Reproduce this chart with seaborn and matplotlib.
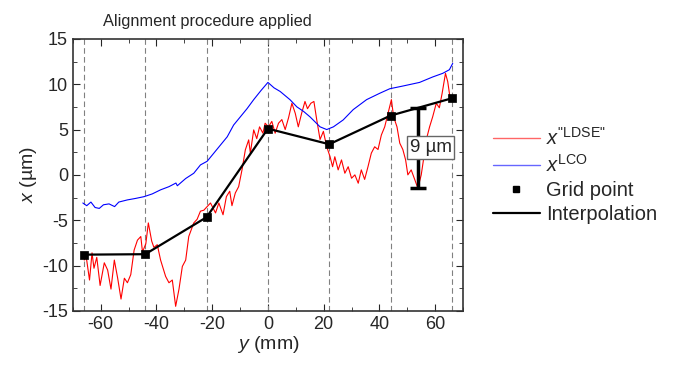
import numpy as np
import matplotlib
matplotlib.use('Agg')
import matplotlib.pyplot as plt
import seaborn as sns
from matplotlib.lines import Line2D

# red trace, x"LDSE": position y (mm) and value x (um)
ldse_y = [-65.9, -65.2, -64.0, -63.1, -62.4, -61.4, -60.2, -58.7, -57.5, -56.3,
          -55.1, -53.9, -52.7, -51.5, -50.4, -49.2, -48.0, -46.8, -45.6, -45.0,
          -43.8, -42.9, -41.7, -40.9, -39.7, -38.5, -36.7, -35.5, -34.3, -33.1,
          -31.9, -30.7, -29.5, -28.4, -26.6, -25.4, -24.2, -23.0, -20.6, -18.8,
          -17.6, -16.1, -14.9, -13.7, -12.9, -11.7, -10.5, -9.3, -8.1, -6.9,
          -6.3, -5.1, -4.0, -3.0, -1.8, -1.0, 0.2, 1.4, 2.6, 3.8,
          5.0, 6.2, 7.4, 8.6, 9.8, 10.9, 12.1, 13.3, 14.2, 15.4,
          16.5, 17.5, 18.7, 19.9, 21.1, 22.3, 23.2, 24.0, 25.2, 26.4,
          27.6, 28.8, 30.0, 31.2, 32.4, 33.5, 34.7, 35.9, 37.1, 38.3,
          39.5, 40.7, 41.9, 43.1, 44.3, 45.1, 46.3, 47.3, 48.4, 49.4,
          50.2, 51.4, 52.5, 53.8, 55.0, 55.8, 56.8, 58.0, 59.1, 60.4,
          61.5, 62.5, 63.7, 64.5, 65.3]
ldse_x = [-9.4, -9.0, -11.6, -8.6, -10.3, -9.1, -12.2, -9.7, -10.5, -12.6,
          -9.4, -11.4, -13.7, -11.4, -11.9, -11.0, -8.3, -7.2, -6.8, -8.5,
          -7.6, -5.3, -7.3, -8.0, -7.7, -9.4, -11.2, -11.9, -11.6, -14.5,
          -12.6, -10.1, -9.4, -6.8, -5.3, -4.9, -4.0, -3.9, -3.1, -4.2,
          -3.1, -4.4, -2.4, -1.8, -3.4, -2.0, -1.3, 0.55, 2.76, 3.86,
          2.4, 4.96, 4.0, 5.3, 4.6, 5.7, 5.3, 5.9, 4.6, 5.7,
          6.1, 5.0, 6.3, 7.9, 6.8, 5.3, 6.8, 8.1, 7.3, 7.9,
          8.1, 6.1, 3.9, 4.8, 3.1, 2.0, 0.9, 2.0, 0.55, 1.65,
          0.18, 0.9, -0.37, 0.0, -0.92, 0.55, -0.5, 0.9, 2.4, 3.1,
          2.8, 4.4, 5.3, 6.8, 8.3, 6.4, 5.3, 3.5, 2.8, 1.65,
          0.0, 0.55, -0.37, -1.47, 0.0, 1.65, 3.86, 5.3, 6.4, 7.9,
          7.4, 9.0, 11.2, 10.3, 8.6]

# blue trace, x LCO
lco_y = [-66.4, -65.0, -63.5, -62.0, -60.5, -59.0, -57.0, -55.0, -53.5, -50.4,
         -47.5, -44.4, -41.5, -38.5, -35.5, -33.0, -32.5, -29.5, -26.6, -24.2,
         -21.8, -19.4, -17.0, -14.6, -12.3, -9.9, -7.5, -5.1, -2.5, 0.0,
         2.2, 4.4, 7.9, 10.4, 12.8, 15.1, 18.7, 21.1, 23.5, 27.0,
         30.6, 35.4, 40.1, 43.7, 48.4, 54.4, 59.1, 62.7, 65.1, 66.3]
lco_x = [-3.1, -3.4, -3.0, -3.6, -3.7, -3.3, -3.2, -3.5, -3.0, -2.76,
         -2.6, -2.4, -2.1, -1.65, -1.3, -0.9, -1.2, -0.4, 0.18, 1.1,
         1.5, 2.4, 3.3, 4.2, 5.5, 6.4, 7.3, 8.3, 9.3, 10.2,
         9.6, 9.2, 8.3, 7.5, 7.0, 6.4, 5.3, 5.0, 5.3, 6.06,
         7.2, 8.3, 9.0, 9.5, 9.8, 10.2, 10.8, 11.2, 11.6, 12.3]

# grid points and their interpolation
grid_y = [-66, -44, -22, 0, 22, 44, 66]
grid_x = [-8.8, -8.75, -4.67, 5.1, 3.38, 6.54, 8.45]

# 9 um gap marker
gap_pos = 53.8
gap_top = 7.42
gap_bottom = -1.47

sns.set_style('ticks')
plt.rcParams['font.family'] = ['Liberation Sans', 'DejaVu Sans']
plt.rcParams['mathtext.fontset'] = 'custom'
plt.rcParams['mathtext.rm'] = 'Liberation Sans'
plt.rcParams['mathtext.it'] = 'Liberation Sans:italic'
plt.rcParams['axes.unicode_minus'] = False

fig = plt.figure(figsize=(6.74, 3.67), dpi=100)
ax = fig.add_axes([0.108, 0.153, 0.579, 0.741])

for g in grid_y:
    ax.axvline(g, color='gray', ls=(0, (5, 3)), lw=0.8, zorder=1)

sns.lineplot(x=ldse_y, y=ldse_x, color='red', lw=0.8, sort=False, ax=ax, zorder=2)
sns.lineplot(x=lco_y, y=lco_x, color='blue', lw=0.8, sort=False, ax=ax, zorder=2)
sns.lineplot(x=grid_y, y=grid_x, color='black', lw=1.6, sort=False, ax=ax, zorder=3)
sns.scatterplot(x=grid_y, y=grid_x, color='black', marker='s', s=40,
                edgecolor='black', ax=ax, zorder=4)

ax.errorbar([gap_pos], [(gap_top + gap_bottom) / 2], yerr=[(gap_top - gap_bottom) / 2],
            color='black', lw=2.5, capsize=6, capthick=2.5, fmt='none', zorder=5)
ax.text(50.8, 3.0, '9 µm', fontsize=13.5, va='center', ha='left', zorder=6,
        bbox=dict(boxstyle='square,pad=0.15', fc='white', ec='#666666', lw=1))

ax.set_xlim(-70, 70)
ax.set_ylim(-15, 15)
ax.set_xticks(np.arange(-60, 61, 20))
ax.set_xticks(np.arange(-70, 71, 10), minor=True)
ax.set_yticks(np.arange(-15, 16, 5))
ax.set_yticks(np.arange(-15, 15.1, 2.5), minor=True)
ax.tick_params(which='both', direction='in', top=True, right=True, labelsize=13)
ax.tick_params(which='major', length=5)
ax.tick_params(which='minor', length=3)
for s in ax.spines.values():
    s.set_linewidth(1.2)
    s.set_color('#333333')

ax.set_xlabel(r'$\mathit{y}$ (mm)', fontsize=14, labelpad=1)
ax.set_ylabel(r'$\mathit{x}$ (µm)', fontsize=14, labelpad=2)
# title sits left of the axes centre in the original
ax.text(0.346, 1.035, 'Alignment procedure applied', transform=ax.transAxes,
        fontsize=11.8, ha='center', va='bottom')

handles = [
    Line2D([], [], color='red', lw=1, alpha=0.6),
    Line2D([], [], color='blue', lw=1, alpha=0.6),
    Line2D([], [], color='black', marker='s', ls='none', markersize=5),
    Line2D([], [], color='black', lw=1.6),
]
labels = [r'$x^{\text{"LDSE"}}$', r'$x^{\text{LCO}}$', 'Grid point', 'Interpolation']
fig.legend(handles, labels, loc='center left', bbox_to_anchor=(0.705, 0.522),
           frameon=False, fontsize=14.5, handlelength=2.3, handletextpad=0.3,
           labelspacing=0.25, borderpad=0.4)

fig.savefig('out.png', dpi=100)
